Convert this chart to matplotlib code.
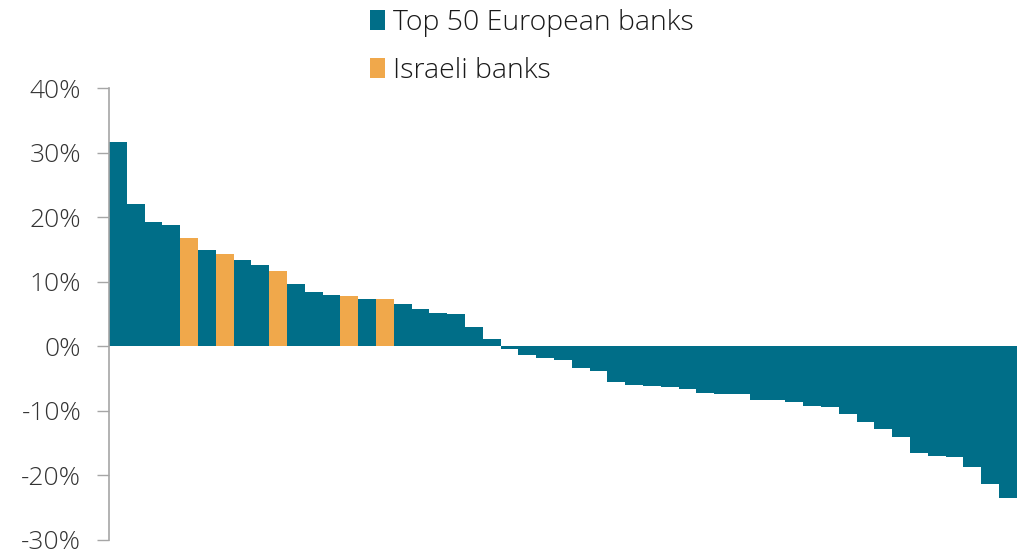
import matplotlib.pyplot as plt
from matplotlib.patches import Patch
from matplotlib.ticker import FuncFormatter

# --- dados (retorno %, ordenado) ---
values = [31.7, 22.0, 19.2, 18.7, 16.8, 14.9, 14.2, 13.4, 12.5, 11.6,
          9.7, 8.4, 7.9, 7.8, 7.3, 7.3, 6.6, 5.7, 5.1, 5.0,
          3.0, 1.1, -0.5, -1.3, -1.9, -2.2, -3.4, -3.9, -5.6, -6.0,
          -6.2, -6.4, -6.6, -7.2, -7.4, -7.45, -8.4, -8.4, -8.7, -9.2,
          -9.4, -10.5, -11.7, -12.8, -14.1, -16.6, -17.0, -17.2, -18.8, -21.3,
          -23.5]
israeli = [4, 6, 9, 13, 15]  # posições dos bancos israelenses
labels = ['Top 50 European banks', 'Israeli banks']

TEAL = '#006E88'
ORANGE = '#F0A84B'
GREY = '#A6A6A6'
TXT = '#333333'

plt.rcParams['font.family'] = ['Open Sans', 'DejaVu Sans']

cores = [ORANGE if i in israeli else TEAL for i in range(len(values))]

fig = plt.figure(figsize=(10.23, 5.57), dpi=100)
ax = fig.add_axes([0.1066, 0.031, 0.8874, 0.811])
ax.bar(range(len(values)), values, width=1.0, color=cores, linewidth=0)

ax.set_xlim(-0.5, len(values) - 0.5)
ax.set_ylim(-30, 40)
ax.set_yticks(range(-30, 41, 10))
ax.yaxis.set_major_formatter(FuncFormatter(lambda v, p: f"{v:.0f}%"))
ax.tick_params(axis='y', direction='out', length=9, width=1, color=GREY,
               labelsize=19, labelcolor=TXT, pad=11)
for lbl in ax.get_yticklabels():
    lbl.set_fontweight('light')
ax.set_xticks([])
for s in ['top', 'right', 'bottom']:
    ax.spines[s].set_visible(False)
ax.spines['left'].set_color(GREY)
ax.spines['left'].set_linewidth(1.2)

handles = [Patch(facecolor=TEAL, edgecolor='none'), Patch(facecolor=ORANGE, edgecolor='none')]
leg = fig.legend(handles, labels, loc='upper left', bbox_to_anchor=(0.351, 1.004),
                 frameon=False, fontsize=20.5, handlelength=0.5, handleheight=0.7,
                 handletextpad=0.3, labelspacing=0.7, borderaxespad=0)
for t in leg.get_texts():
    t.set_color('#1a1a1a')
    t.set_fontweight('light')

fig.savefig('out.png', dpi=100)
